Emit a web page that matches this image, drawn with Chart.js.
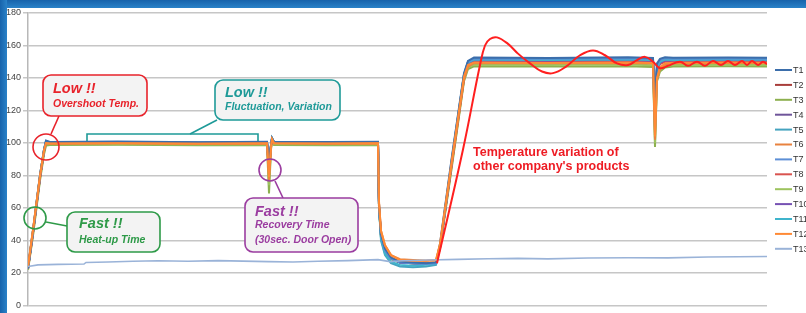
<!DOCTYPE html>
<html>
<head>
<meta charset="utf-8">
<script src="https://cdn.jsdelivr.net/npm/chart.js@4/dist/chart.umd.min.js"></script>
<style>
  html, body { margin: 0; padding: 0; background: #fff; }
  #wrap { position: relative; width: 806px; height: 313px; overflow: hidden; }
  #chart { position: absolute; left: 0; top: 0; }
  .bar { position: absolute; background: #1b6db4; }
  #top { left: 0; top: 0; width: 806px; height: 8px; background: linear-gradient(#1763ab, #2a82c8); }
  #left { left: 0; top: 0; width: 7px; height: 313px; background: linear-gradient(90deg, #1763ab, #2a82c8); }
</style>
</head>
<body>
<div id="wrap">
  <canvas id="chart" width="806" height="313"></canvas>
  <div class="bar" id="top"></div>
  <div class="bar" id="left"></div>
</div>
<script>
// time axis (no labels in the original), shared by T1..T12
const t = [0, 5, 12, 16, 18, 22, 90, 170, 239, 241, 243, 244, 246, 300, 350, 351, 353, 357, 363, 372, 385, 398, 408, 412, 424, 436, 440, 446, 520, 600, 625, 627, 629, 632, 637, 645, 700, 739];

const T1  = [23, 46, 80, 96, 101.5, 100.6, 100.9, 100.5, 100.7, 90, 99, 103, 100.8, 100.6, 100.7, 63, 44, 35, 29.5, 27, 26.5, 26, 26.5, 38, 92, 143, 150.5, 152.6, 152.3, 152.7, 152.3, 128, 149, 151.8, 152.8, 152.4, 152.6, 152.5];
const T2  = [22.5, 45, 79, 95, 100.8, 100.2, 100.4, 100.1, 100.3, 86, 98.5, 102.5, 100.4, 100.2, 100.3, 61, 43, 34, 29, 26.5, 26, 25.5, 26, 36, 89, 141, 149, 151, 150.8, 151, 150.7, 122, 146, 149.5, 150.8, 150.6, 150.8, 150.6];
const T3  = [22, 43, 77, 93, 98.5, 98.8, 98.9, 98.6, 98.8, 69, 96, 101.5, 98.7, 98.6, 98.8, 60, 42, 33, 28.5, 26.5, 26, 26, 26.5, 35, 86, 138, 145.5, 147.2, 147, 147.3, 146.8, 97.5, 138, 144, 146.5, 147, 147.2, 147];
const T4  = [23, 45, 79, 95, 100.5, 100, 100.2, 100, 100.1, 84, 98, 102.5, 100.1, 100, 100.2, 61, 43, 34, 29, 26.5, 26, 25.5, 26, 36, 89, 140, 148.5, 151, 150.9, 151.2, 150.8, 118, 145, 149.5, 151, 150.9, 151, 151];
const T5  = [23, 46, 80, 95.5, 101, 100.3, 100.5, 100.2, 100.4, 84, 98.5, 103, 100.4, 100.3, 100.4, 60, 40, 31, 26, 24, 23.5, 24, 25, 36, 90, 142, 150, 151.8, 151.5, 151.8, 151.4, 107, 146, 150.5, 151.7, 151.5, 151.7, 151.6];
const T6  = [24, 46, 79, 95, 99.8, 99.6, 99.8, 99.5, 99.7, 77, 97, 102, 99.8, 99.6, 99.8, 63, 46, 37, 31, 28.5, 28, 27.5, 28, 37, 88, 139, 147, 149.2, 149, 149.3, 148.9, 102, 139, 145.5, 148.5, 149, 149.2, 149];
const T7  = [23, 46, 80, 96, 101.2, 100.4, 100.6, 100.3, 100.5, 88, 99, 103, 100.6, 100.4, 100.5, 62, 43, 34, 29, 26.5, 26, 25.5, 26, 37, 91, 142, 150, 152, 151.8, 152.1, 151.7, 125, 148, 151, 152.1, 151.8, 152, 151.9];
const T8  = [22.5, 45, 79, 95, 100.2, 99.9, 100, 99.8, 100, 82, 98, 102, 100, 99.9, 100, 61, 44, 35, 29.5, 27, 26.5, 26, 26.5, 36, 88, 140, 148, 150.2, 150, 150.3, 149.9, 115, 144, 148.5, 150, 150, 150.2, 150];
const T9  = [22, 44, 78, 94, 99.2, 99.2, 99.3, 99, 99.2, 74, 97, 101.5, 99.2, 99.1, 99.3, 60, 42, 33, 28.5, 26.5, 26, 25.5, 26.5, 35, 87, 139, 146.5, 148.2, 148, 148.3, 147.9, 100, 139, 145, 147.5, 148, 148.2, 148];
const T10 = [23, 45, 79, 95, 100.6, 100.1, 100.3, 100, 100.2, 85, 98.5, 102.5, 100.2, 100.1, 100.2, 61, 43, 34, 29, 26.5, 26, 25.5, 26, 36, 89, 141, 149, 150.9, 150.7, 151, 150.6, 120, 146, 149.5, 150.9, 150.7, 150.9, 150.8];
const T11 = [23, 46, 80, 95.5, 100.9, 100.2, 100.4, 100.1, 100.3, 86, 98.5, 103, 100.3, 100.2, 100.3, 61, 41, 32, 27, 25, 24.5, 25, 25.5, 36, 90, 142, 149.5, 151.3, 151.1, 151.4, 151, 110, 146, 150, 151.3, 151.1, 151.3, 151.2];
const T12 = [24, 47, 80, 95.5, 100, 99.7, 99.9, 99.6, 99.8, 79, 97.5, 102.5, 99.9, 99.7, 99.9, 64, 46, 37, 31, 28, 27.5, 27.5, 28, 38, 90, 141, 148, 149.6, 149.3, 149.6, 149.2, 104, 140, 146.5, 149, 149.4, 149.6, 149.4];

// T13: room temperature
const tAmb = [0, 10, 30, 56, 58, 80, 105, 130, 160, 190, 215, 240, 265, 290, 320, 350, 362, 375, 400, 430, 460, 490, 520, 560, 600, 640, 680, 710, 739];
const T13  = [24, 25, 25.3, 25.5, 26.5, 26.8, 27.2, 27.5, 27.2, 27.6, 27.3, 27, 26.8, 27.2, 27.6, 28.2, 27, 27.5, 28, 28.4, 28.8, 29, 28.7, 29.2, 29.4, 29.3, 29.8, 30, 30.2];

// other company's product (red curve)
const tRed = [409, 435, 452, 457, 462, 469, 480, 490, 502, 514, 525, 538, 552, 565, 577, 589, 600, 609, 617, 625, 632, 640, 652, 660, 669, 677, 685, 693, 700, 707, 714, 719, 724, 730, 735, 739];
const red  = [26, 96, 148, 160, 164, 165, 161, 155, 149, 144, 143, 147, 154, 157, 154, 149, 148, 151, 153, 150, 146, 147.5, 150, 147.5, 150, 147.5, 150.5, 148, 150.5, 148, 150.5, 148, 150.5, 148, 150, 148.5];

const names = ['T1','T2','T3','T4','T5','T6','T7','T8','T9','T10','T11','T12','T13'];
const colors = ['#3b6eab','#a83d3a','#8db04f','#6f559a','#45a3bf','#e8823f','#5d8fd6','#d9534f','#9dc35e','#7651b3','#3fb4cc','#ff8a35','#9ab3d8'];
const series = [T1, T2, T3, T4, T5, T6, T7, T8, T9, T10, T11, T12];

function pts(xs, ys) {
    return xs.map(function (x, i) { return { x: x, y: ys[i] }; });
}

const datasets = [];
datasets.push({ label: 'other', data: pts(tRed, red), borderColor: '#ff1f1f', borderWidth: 2, tension: 0.4, order: 0 });
datasets.push({ label: 'T13', data: pts(tAmb, T13), borderColor: colors[12], borderWidth: 1.6, order: 1 });
// orange ones on top, green/blue below
const drawOrder = [11, 5, 0, 6, 10, 4, 9, 3, 7, 1, 8, 2];
series.forEach(function (s, i) {
    datasets.push({ label: names[i], data: pts(t, s), borderColor: colors[i], borderWidth: 2, order: 2 + drawOrder.indexOf(i) });
});

// legend + callouts
const extras = {
    id: 'extras',
    afterDraw(chart) {
        const ctx = chart.ctx;
        ctx.save();

        // legend
        ctx.font = '9px "Liberation Sans", Arial, sans-serif';
        ctx.textBaseline = 'middle';
        for (let i = 0; i < 13; i++) {
            const y = 70 + i * 14.9;
            ctx.strokeStyle = colors[i];
            ctx.lineWidth = 2;
            ctx.beginPath();
            ctx.moveTo(775, y);
            ctx.lineTo(792, y);
            ctx.stroke();
            ctx.fillStyle = '#333';
            ctx.fillText(names[i], 793, y + 0.5);
        }

        function box(x, y, w, h, col) {
            const r = 8;
            ctx.beginPath();
            ctx.moveTo(x + r, y);
            ctx.arcTo(x + w, y, x + w, y + h, r);
            ctx.arcTo(x + w, y + h, x, y + h, r);
            ctx.arcTo(x, y + h, x, y, r);
            ctx.arcTo(x, y, x + w, y, r);
            ctx.closePath();
            ctx.fillStyle = '#f3f3f3';
            ctx.fill();
            ctx.strokeStyle = col;
            ctx.lineWidth = 1.6;
            ctx.stroke();
        }
        function line(x1, y1, x2, y2, col) {
            ctx.strokeStyle = col;
            ctx.lineWidth = 1.6;
            ctx.beginPath();
            ctx.moveTo(x1, y1);
            ctx.lineTo(x2, y2);
            ctx.stroke();
        }
        function circle(x, y, r, col) {
            ctx.strokeStyle = col;
            ctx.lineWidth = 1.6;
            ctx.beginPath();
            ctx.arc(x, y, r, 0, Math.PI * 2);
            ctx.stroke();
        }
        function txt(s, x, y, size, col) {
            ctx.font = 'italic bold ' + size + 'px "Liberation Sans", Arial, sans-serif';
            ctx.fillStyle = col;
            ctx.textBaseline = 'middle';
            ctx.fillText(s, x, y);
        }

        // overshoot
        const cRed = '#e8232b';
        line(59, 116, 51, 134, cRed);
        circle(46, 147, 13, cRed);
        box(43, 75, 104, 41, cRed);
        txt('Low !!', 53, 89, 14.5, cRed);
        txt('Overshoot Temp.', 53, 104, 10.5, cRed);

        // fluctuation
        const cTeal = '#1e9a98';
        ctx.strokeStyle = cTeal;
        ctx.lineWidth = 1.6;
        ctx.beginPath();
        ctx.moveTo(87, 141);
        ctx.lineTo(87, 134);
        ctx.lineTo(258, 134);
        ctx.lineTo(258, 141);
        ctx.stroke();
        line(190, 134, 217, 120, cTeal);
        box(215, 80, 125, 40, cTeal);
        txt('Low !!', 225, 93, 14.5, cTeal);
        txt('Fluctuation, Variation', 225, 107, 10.5, cTeal);

        // heat-up
        const cGreen = '#2e9a48';
        circle(35, 218, 11, cGreen);
        line(46, 222, 67, 226, cGreen);
        box(67, 212, 93, 40, cGreen);
        txt('Fast !!', 79, 224, 14.5, cGreen);
        txt('Heat-up Time', 79, 240, 10.5, cGreen);

        // recovery
        const cPur = '#9b3da0';
        circle(270, 170, 11, cPur);
        line(275, 181, 283, 198, cPur);
        box(245, 198, 113, 54, cPur);
        txt('Fast !!', 255, 212, 14.5, cPur);
        txt('Recovery Time', 255, 225, 10.5, cPur);
        txt('(30sec. Door Open)', 255, 240, 10.5, cPur);

        // other company
        ctx.font = 'bold 12.5px "Liberation Sans", Arial, sans-serif';
        ctx.fillStyle = '#ee1c24';
        ctx.fillText('Temperature variation of', 473, 153);
        ctx.fillText("other company's products", 473, 167);

        ctx.restore();
    }
};

const myChart = new Chart(document.getElementById('chart'), {
    type: 'line',
    data: { datasets: datasets },
    options: {
        responsive: false,
        animation: false,
        layout: { padding: { left: 0, top: 13, right: 39, bottom: 7.5 } },
        elements: { point: { radius: 0 }, line: { tension: 0 } },
        plugins: { legend: { display: false }, tooltip: { enabled: false } },
        scales: {
            x: { type: 'linear', min: 0, max: 739, display: false },
            y: {
                min: 0,
                max: 180,
                afterFit: function (s) { s.width = 28; },
                ticks: { stepSize: 20, padding: 2, color: '#444', font: { family: '"Liberation Sans", Arial, sans-serif', size: 9 } },
                grid: { color: '#c6c6c6', lineWidth: 1.5, tickLength: 5 },
                border: { display: true, color: '#b8b8b8', width: 1.5 }
            }
        }
    },
    plugins: [extras]
});
</script>
</body>
</html>
